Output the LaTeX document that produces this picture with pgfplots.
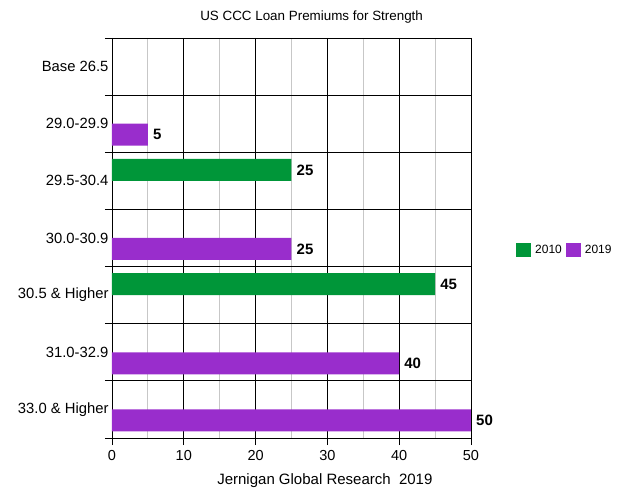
\documentclass[border=0pt]{standalone}
\usepackage{fontspec}
\setmainfont{Liberation Sans}
\usepackage{pgfplots}
\pgfplotsset{compat=1.18}

\definecolor{bargreen}{RGB}{0,150,57}
\definecolor{barpurple}{RGB}{153,45,204}

\begin{document}
\begin{tikzpicture}
\path[use as bounding box] (-112pt,-56pt) rectangle (512pt,438pt);
\begin{axis}[
  at={(0,0)}, anchor=south west,
  scale only axis, width=359pt, height=400pt,
  xbar, bar width=22pt,
  xmin=0, xmax=50, ymin=-0.5, ymax=6.5, y dir=reverse,
  /pgf/number format/assume math mode=true,
  xticklabel style={font=\fontsize{14.5}{16}\selectfont, yshift=-2pt},
  yticklabel style={font=\fontsize{14.8}{16}\selectfont},
  axis line style={black, line width=0.8pt},
  xtick={0,10,...,50}, minor xtick={5,15,...,45},
  xtick pos=bottom, ytick pos=left,
  tick align=outside, major tick length=7pt, minor tick length=0pt,
  tick style={black, line width=0.8pt},
  xmajorgrids, xminorgrids, ymajorgrids,
  major grid style={black, line width=0.8pt},
  minor grid style={black!22, line width=0.8pt},
  ytick={-0.5,0.5,...,6.5}, yticklabels={},
  extra y ticks={0,1,2,3,4,5,6},
  extra y tick labels={Base 26.5,29.0-29.9,29.5-30.4,30.0-30.9,30.5 \& Higher,31.0-32.9,33.0 \& Higher},
  extra y tick style={major tick length=0pt, grid=none},
  title={US CCC Loan Premiums for Strength},
  title style={at={(axis description cs:0.556,1)}, anchor=center, yshift=15pt, font=\fontsize{13.4}{15}\selectfont},
  xlabel={Jernigan Global Research\ \ 2019},
  xlabel style={at={(axis description cs:0.593,0)}, anchor=center, yshift=-43pt, font=\fontsize{15}{17}\selectfont},
  nodes near coords,
  every node near coord/.append style={font=\fontsize{15}{17}\selectfont\bfseries, black, anchor=west, inner sep=5pt},
  legend columns=2,
  legend style={at={(axis description cs:1.117,0.47)}, anchor=west, draw=none, fill=none,
    font=\fontsize{12}{14}\selectfont, column sep=2pt},
  legend cell align=left,
]
% 2010 series (upper bar of each slot)
\addplot[draw=none, fill=bargreen, bar shift=11pt,
  legend image code/.code={\fill[bargreen] (0pt,-7pt) rectangle (15pt,7pt);}]
  coordinates {(25,2) (45,4)};
\addlegendentry{2010}
% 2019 series (lower bar of each slot)
\addplot[draw=none, fill=barpurple, bar shift=-11pt,
  legend image code/.code={\fill[barpurple] (0pt,-7pt) rectangle (15pt,7pt);}]
  coordinates {(5,1) (25,3) (40,5) (50,6)};
\addlegendentry{2019}
\end{axis}
\end{tikzpicture}
\end{document}
